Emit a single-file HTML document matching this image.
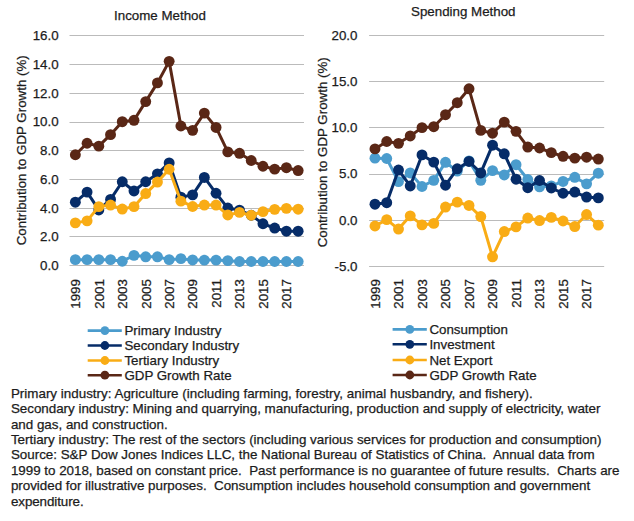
<!DOCTYPE html>
<html><head><meta charset="utf-8"><style>
html,body{margin:0;padding:0;background:#fff;}
svg{display:block;}
text{font-family:"Liberation Sans", sans-serif;font-size:13.33px;fill:#1c1c1c;stroke:#1c1c1c;stroke-width:0.25px;}
</style></head><body>
<svg width="634" height="521" viewBox="0 0 634 521">
<rect width="634" height="521" fill="#fff"/>
<line x1="69.50" x2="304.00" y1="35.50" y2="35.50" stroke="#bbbbbb" stroke-width="1"/>
<text x="58.60" y="40.10" text-anchor="end" >16.0</text>
<line x1="69.50" x2="304.00" y1="64.50" y2="64.50" stroke="#bbbbbb" stroke-width="1"/>
<text x="58.60" y="68.84" text-anchor="end" >14.0</text>
<line x1="69.50" x2="304.00" y1="93.50" y2="93.50" stroke="#bbbbbb" stroke-width="1"/>
<text x="58.60" y="97.57" text-anchor="end" >12.0</text>
<line x1="69.50" x2="304.00" y1="122.50" y2="122.50" stroke="#bbbbbb" stroke-width="1"/>
<text x="58.60" y="126.31" text-anchor="end" >10.0</text>
<line x1="69.50" x2="304.00" y1="150.50" y2="150.50" stroke="#bbbbbb" stroke-width="1"/>
<text x="58.60" y="155.05" text-anchor="end" >8.0</text>
<line x1="69.50" x2="304.00" y1="179.50" y2="179.50" stroke="#bbbbbb" stroke-width="1"/>
<text x="58.60" y="183.79" text-anchor="end" >6.0</text>
<line x1="69.50" x2="304.00" y1="208.50" y2="208.50" stroke="#bbbbbb" stroke-width="1"/>
<text x="58.60" y="212.52" text-anchor="end" >4.0</text>
<line x1="69.50" x2="304.00" y1="236.50" y2="236.50" stroke="#bbbbbb" stroke-width="1"/>
<text x="58.60" y="241.26" text-anchor="end" >2.0</text>
<line x1="69.50" x2="304.00" y1="265.50" y2="265.50" stroke="#bbbbbb" stroke-width="1"/>
<text x="58.60" y="270.00" text-anchor="end" >0.0</text>
<text transform="translate(80.16,279.1) rotate(-90)" text-anchor="end">1999</text>
<text transform="translate(103.61,279.1) rotate(-90)" text-anchor="end">2001</text>
<text transform="translate(127.06,279.1) rotate(-90)" text-anchor="end">2003</text>
<text transform="translate(150.51,279.1) rotate(-90)" text-anchor="end">2005</text>
<text transform="translate(173.96,279.1) rotate(-90)" text-anchor="end">2007</text>
<text transform="translate(197.41,279.1) rotate(-90)" text-anchor="end">2009</text>
<text transform="translate(220.86,279.1) rotate(-90)" text-anchor="end">2011</text>
<text transform="translate(244.31,279.1) rotate(-90)" text-anchor="end">2013</text>
<text transform="translate(267.76,279.1) rotate(-90)" text-anchor="end">2015</text>
<text transform="translate(291.21,279.1) rotate(-90)" text-anchor="end">2017</text>
<polyline points="75.36,259.65 87.09,259.65 98.81,259.65 110.54,259.65 122.26,261.23 133.99,255.34 145.71,256.78 157.44,256.78 169.16,259.65 180.89,258.65 192.61,259.94 204.34,260.08 216.06,260.08 227.79,260.66 239.51,261.52 251.24,261.52 262.96,261.52 274.69,261.52 286.41,261.52 298.14,261.52" fill="none" stroke="#4b9ccd" stroke-width="3.0" stroke-linejoin="round"/>
<circle cx="75.36" cy="259.65" r="5.45" fill="#4b9ccd"/>
<circle cx="87.09" cy="259.65" r="5.45" fill="#4b9ccd"/>
<circle cx="98.81" cy="259.65" r="5.45" fill="#4b9ccd"/>
<circle cx="110.54" cy="259.65" r="5.45" fill="#4b9ccd"/>
<circle cx="122.26" cy="261.23" r="5.45" fill="#4b9ccd"/>
<circle cx="133.99" cy="255.34" r="5.45" fill="#4b9ccd"/>
<circle cx="145.71" cy="256.78" r="5.45" fill="#4b9ccd"/>
<circle cx="157.44" cy="256.78" r="5.45" fill="#4b9ccd"/>
<circle cx="169.16" cy="259.65" r="5.45" fill="#4b9ccd"/>
<circle cx="180.89" cy="258.65" r="5.45" fill="#4b9ccd"/>
<circle cx="192.61" cy="259.94" r="5.45" fill="#4b9ccd"/>
<circle cx="204.34" cy="260.08" r="5.45" fill="#4b9ccd"/>
<circle cx="216.06" cy="260.08" r="5.45" fill="#4b9ccd"/>
<circle cx="227.79" cy="260.66" r="5.45" fill="#4b9ccd"/>
<circle cx="239.51" cy="261.52" r="5.45" fill="#4b9ccd"/>
<circle cx="251.24" cy="261.52" r="5.45" fill="#4b9ccd"/>
<circle cx="262.96" cy="261.52" r="5.45" fill="#4b9ccd"/>
<circle cx="274.69" cy="261.52" r="5.45" fill="#4b9ccd"/>
<circle cx="286.41" cy="261.52" r="5.45" fill="#4b9ccd"/>
<circle cx="298.14" cy="261.52" r="5.45" fill="#4b9ccd"/>
<polyline points="75.36,202.18 87.09,192.12 98.81,209.94 110.54,199.45 122.26,181.77 133.99,190.97 145.71,181.77 157.44,173.87 169.16,162.95 180.89,197.15 192.61,194.85 204.34,177.46 216.06,193.27 227.79,208.07 239.51,210.08 251.24,215.25 262.96,223.73 274.69,228.04 286.41,231.20 298.14,231.20" fill="none" stroke="#062c68" stroke-width="3.0" stroke-linejoin="round"/>
<circle cx="75.36" cy="202.18" r="5.45" fill="#062c68"/>
<circle cx="87.09" cy="192.12" r="5.45" fill="#062c68"/>
<circle cx="98.81" cy="209.94" r="5.45" fill="#062c68"/>
<circle cx="110.54" cy="199.45" r="5.45" fill="#062c68"/>
<circle cx="122.26" cy="181.77" r="5.45" fill="#062c68"/>
<circle cx="133.99" cy="190.97" r="5.45" fill="#062c68"/>
<circle cx="145.71" cy="181.77" r="5.45" fill="#062c68"/>
<circle cx="157.44" cy="173.87" r="5.45" fill="#062c68"/>
<circle cx="169.16" cy="162.95" r="5.45" fill="#062c68"/>
<circle cx="180.89" cy="197.15" r="5.45" fill="#062c68"/>
<circle cx="192.61" cy="194.85" r="5.45" fill="#062c68"/>
<circle cx="204.34" cy="177.46" r="5.45" fill="#062c68"/>
<circle cx="216.06" cy="193.27" r="5.45" fill="#062c68"/>
<circle cx="227.79" cy="208.07" r="5.45" fill="#062c68"/>
<circle cx="239.51" cy="210.08" r="5.45" fill="#062c68"/>
<circle cx="251.24" cy="215.25" r="5.45" fill="#062c68"/>
<circle cx="262.96" cy="223.73" r="5.45" fill="#062c68"/>
<circle cx="274.69" cy="228.04" r="5.45" fill="#062c68"/>
<circle cx="286.41" cy="231.20" r="5.45" fill="#062c68"/>
<circle cx="298.14" cy="231.20" r="5.45" fill="#062c68"/>
<polyline points="75.36,222.87 87.09,220.86 98.81,206.63 110.54,205.05 122.26,209.07 133.99,206.63 145.71,193.56 157.44,182.06 169.16,169.27 180.89,201.17 192.61,206.49 204.34,205.05 216.06,205.05 227.79,214.97 239.51,212.38 251.24,215.25 262.96,211.66 274.69,209.36 286.41,208.36 298.14,209.22" fill="none" stroke="#f9ac15" stroke-width="3.0" stroke-linejoin="round"/>
<circle cx="75.36" cy="222.87" r="5.45" fill="#f9ac15"/>
<circle cx="87.09" cy="220.86" r="5.45" fill="#f9ac15"/>
<circle cx="98.81" cy="206.63" r="5.45" fill="#f9ac15"/>
<circle cx="110.54" cy="205.05" r="5.45" fill="#f9ac15"/>
<circle cx="122.26" cy="209.07" r="5.45" fill="#f9ac15"/>
<circle cx="133.99" cy="206.63" r="5.45" fill="#f9ac15"/>
<circle cx="145.71" cy="193.56" r="5.45" fill="#f9ac15"/>
<circle cx="157.44" cy="182.06" r="5.45" fill="#f9ac15"/>
<circle cx="169.16" cy="169.27" r="5.45" fill="#f9ac15"/>
<circle cx="180.89" cy="201.17" r="5.45" fill="#f9ac15"/>
<circle cx="192.61" cy="206.49" r="5.45" fill="#f9ac15"/>
<circle cx="204.34" cy="205.05" r="5.45" fill="#f9ac15"/>
<circle cx="216.06" cy="205.05" r="5.45" fill="#f9ac15"/>
<circle cx="227.79" cy="214.97" r="5.45" fill="#f9ac15"/>
<circle cx="239.51" cy="212.38" r="5.45" fill="#f9ac15"/>
<circle cx="251.24" cy="215.25" r="5.45" fill="#f9ac15"/>
<circle cx="262.96" cy="211.66" r="5.45" fill="#f9ac15"/>
<circle cx="274.69" cy="209.36" r="5.45" fill="#f9ac15"/>
<circle cx="286.41" cy="208.36" r="5.45" fill="#f9ac15"/>
<circle cx="298.14" cy="209.22" r="5.45" fill="#f9ac15"/>
<polyline points="75.36,154.76 87.09,143.27 98.81,146.14 110.54,134.64 122.26,121.71 133.99,120.28 145.71,101.60 157.44,82.92 169.16,61.36 180.89,126.02 192.61,130.33 204.34,113.09 216.06,127.46 227.79,151.89 239.51,153.32 251.24,160.51 262.96,166.26 274.69,169.13 286.41,167.69 298.14,170.57" fill="none" stroke="#5a2716" stroke-width="3.0" stroke-linejoin="round"/>
<circle cx="75.36" cy="154.76" r="5.45" fill="#5a2716"/>
<circle cx="87.09" cy="143.27" r="5.45" fill="#5a2716"/>
<circle cx="98.81" cy="146.14" r="5.45" fill="#5a2716"/>
<circle cx="110.54" cy="134.64" r="5.45" fill="#5a2716"/>
<circle cx="122.26" cy="121.71" r="5.45" fill="#5a2716"/>
<circle cx="133.99" cy="120.28" r="5.45" fill="#5a2716"/>
<circle cx="145.71" cy="101.60" r="5.45" fill="#5a2716"/>
<circle cx="157.44" cy="82.92" r="5.45" fill="#5a2716"/>
<circle cx="169.16" cy="61.36" r="5.45" fill="#5a2716"/>
<circle cx="180.89" cy="126.02" r="5.45" fill="#5a2716"/>
<circle cx="192.61" cy="130.33" r="5.45" fill="#5a2716"/>
<circle cx="204.34" cy="113.09" r="5.45" fill="#5a2716"/>
<circle cx="216.06" cy="127.46" r="5.45" fill="#5a2716"/>
<circle cx="227.79" cy="151.89" r="5.45" fill="#5a2716"/>
<circle cx="239.51" cy="153.32" r="5.45" fill="#5a2716"/>
<circle cx="251.24" cy="160.51" r="5.45" fill="#5a2716"/>
<circle cx="262.96" cy="166.26" r="5.45" fill="#5a2716"/>
<circle cx="274.69" cy="169.13" r="5.45" fill="#5a2716"/>
<circle cx="286.41" cy="167.69" r="5.45" fill="#5a2716"/>
<circle cx="298.14" cy="170.57" r="5.45" fill="#5a2716"/>
<text x="160.00" y="19.50" text-anchor="middle" >Income Method</text>
<text transform="translate(25.70,150.30) rotate(-90)" text-anchor="middle">Contribution to GDP Growth (%)</text>
<line x1="369.10" x2="604.20" y1="35.50" y2="35.50" stroke="#bbbbbb" stroke-width="1"/>
<text x="357.50" y="39.80" text-anchor="end" >20.0</text>
<line x1="369.10" x2="604.20" y1="81.50" y2="81.50" stroke="#bbbbbb" stroke-width="1"/>
<text x="357.50" y="86.02" text-anchor="end" >15.0</text>
<line x1="369.10" x2="604.20" y1="127.50" y2="127.50" stroke="#bbbbbb" stroke-width="1"/>
<text x="357.50" y="132.24" text-anchor="end" >10.0</text>
<line x1="369.10" x2="604.20" y1="174.50" y2="174.50" stroke="#bbbbbb" stroke-width="1"/>
<text x="357.50" y="178.46" text-anchor="end" >5.0</text>
<line x1="369.10" x2="604.20" y1="220.50" y2="220.50" stroke="#bbbbbb" stroke-width="1"/>
<text x="357.50" y="224.68" text-anchor="end" >0.0</text>
<line x1="369.10" x2="604.20" y1="266.50" y2="266.50" stroke="#bbbbbb" stroke-width="1"/>
<text x="357.50" y="270.90" text-anchor="end" >-5.0</text>
<text transform="translate(379.78,279.1) rotate(-90)" text-anchor="end">1999</text>
<text transform="translate(403.29,279.1) rotate(-90)" text-anchor="end">2001</text>
<text transform="translate(426.80,279.1) rotate(-90)" text-anchor="end">2003</text>
<text transform="translate(450.31,279.1) rotate(-90)" text-anchor="end">2005</text>
<text transform="translate(473.82,279.1) rotate(-90)" text-anchor="end">2007</text>
<text transform="translate(497.33,279.1) rotate(-90)" text-anchor="end">2009</text>
<text transform="translate(520.84,279.1) rotate(-90)" text-anchor="end">2011</text>
<text transform="translate(544.35,279.1) rotate(-90)" text-anchor="end">2013</text>
<text transform="translate(567.86,279.1) rotate(-90)" text-anchor="end">2015</text>
<text transform="translate(591.37,279.1) rotate(-90)" text-anchor="end">2017</text>
<polyline points="374.98,158.15 386.73,158.51 398.49,181.62 410.24,172.94 422.00,186.52 433.75,180.33 445.51,162.31 457.26,171.09 469.02,160.92 480.77,180.33 492.53,170.62 504.28,174.97 516.04,164.71 527.79,179.50 539.55,186.80 551.30,185.88 563.06,181.44 574.81,177.28 586.57,183.84 598.32,173.21" fill="none" stroke="#4b9ccd" stroke-width="3.0" stroke-linejoin="round"/>
<circle cx="374.98" cy="158.15" r="5.45" fill="#4b9ccd"/>
<circle cx="386.73" cy="158.51" r="5.45" fill="#4b9ccd"/>
<circle cx="398.49" cy="181.62" r="5.45" fill="#4b9ccd"/>
<circle cx="410.24" cy="172.94" r="5.45" fill="#4b9ccd"/>
<circle cx="422.00" cy="186.52" r="5.45" fill="#4b9ccd"/>
<circle cx="433.75" cy="180.33" r="5.45" fill="#4b9ccd"/>
<circle cx="445.51" cy="162.31" r="5.45" fill="#4b9ccd"/>
<circle cx="457.26" cy="171.09" r="5.45" fill="#4b9ccd"/>
<circle cx="469.02" cy="160.92" r="5.45" fill="#4b9ccd"/>
<circle cx="480.77" cy="180.33" r="5.45" fill="#4b9ccd"/>
<circle cx="492.53" cy="170.62" r="5.45" fill="#4b9ccd"/>
<circle cx="504.28" cy="174.97" r="5.45" fill="#4b9ccd"/>
<circle cx="516.04" cy="164.71" r="5.45" fill="#4b9ccd"/>
<circle cx="527.79" cy="179.50" r="5.45" fill="#4b9ccd"/>
<circle cx="539.55" cy="186.80" r="5.45" fill="#4b9ccd"/>
<circle cx="551.30" cy="185.88" r="5.45" fill="#4b9ccd"/>
<circle cx="563.06" cy="181.44" r="5.45" fill="#4b9ccd"/>
<circle cx="574.81" cy="177.28" r="5.45" fill="#4b9ccd"/>
<circle cx="586.57" cy="183.84" r="5.45" fill="#4b9ccd"/>
<circle cx="598.32" cy="173.21" r="5.45" fill="#4b9ccd"/>
<polyline points="374.98,204.18 386.73,202.70 398.49,170.07 410.24,185.97 422.00,154.91 433.75,162.12 445.51,185.23 457.26,168.78 469.02,161.47 480.77,172.94 492.53,145.20 504.28,153.80 516.04,179.22 527.79,187.73 539.55,180.52 551.30,188.00 563.06,193.27 574.81,192.07 586.57,197.06 598.32,197.89" fill="none" stroke="#062c68" stroke-width="3.0" stroke-linejoin="round"/>
<circle cx="374.98" cy="204.18" r="5.45" fill="#062c68"/>
<circle cx="386.73" cy="202.70" r="5.45" fill="#062c68"/>
<circle cx="398.49" cy="170.07" r="5.45" fill="#062c68"/>
<circle cx="410.24" cy="185.97" r="5.45" fill="#062c68"/>
<circle cx="422.00" cy="154.91" r="5.45" fill="#062c68"/>
<circle cx="433.75" cy="162.12" r="5.45" fill="#062c68"/>
<circle cx="445.51" cy="185.23" r="5.45" fill="#062c68"/>
<circle cx="457.26" cy="168.78" r="5.45" fill="#062c68"/>
<circle cx="469.02" cy="161.47" r="5.45" fill="#062c68"/>
<circle cx="480.77" cy="172.94" r="5.45" fill="#062c68"/>
<circle cx="492.53" cy="145.20" r="5.45" fill="#062c68"/>
<circle cx="504.28" cy="153.80" r="5.45" fill="#062c68"/>
<circle cx="516.04" cy="179.22" r="5.45" fill="#062c68"/>
<circle cx="527.79" cy="187.73" r="5.45" fill="#062c68"/>
<circle cx="539.55" cy="180.52" r="5.45" fill="#062c68"/>
<circle cx="551.30" cy="188.00" r="5.45" fill="#062c68"/>
<circle cx="563.06" cy="193.27" r="5.45" fill="#062c68"/>
<circle cx="574.81" cy="192.07" r="5.45" fill="#062c68"/>
<circle cx="586.57" cy="197.06" r="5.45" fill="#062c68"/>
<circle cx="598.32" cy="197.89" r="5.45" fill="#062c68"/>
<polyline points="374.98,226.00 386.73,219.62 398.49,229.05 410.24,215.83 422.00,224.89 433.75,223.41 445.51,207.05 457.26,202.15 469.02,205.47 480.77,216.57 492.53,256.78 504.28,231.54 516.04,226.83 527.79,218.05 539.55,220.54 551.30,217.40 563.06,221.00 574.81,226.55 586.57,214.53 598.32,225.16" fill="none" stroke="#f9ac15" stroke-width="3.0" stroke-linejoin="round"/>
<circle cx="374.98" cy="226.00" r="5.45" fill="#f9ac15"/>
<circle cx="386.73" cy="219.62" r="5.45" fill="#f9ac15"/>
<circle cx="398.49" cy="229.05" r="5.45" fill="#f9ac15"/>
<circle cx="410.24" cy="215.83" r="5.45" fill="#f9ac15"/>
<circle cx="422.00" cy="224.89" r="5.45" fill="#f9ac15"/>
<circle cx="433.75" cy="223.41" r="5.45" fill="#f9ac15"/>
<circle cx="445.51" cy="207.05" r="5.45" fill="#f9ac15"/>
<circle cx="457.26" cy="202.15" r="5.45" fill="#f9ac15"/>
<circle cx="469.02" cy="205.47" r="5.45" fill="#f9ac15"/>
<circle cx="480.77" cy="216.57" r="5.45" fill="#f9ac15"/>
<circle cx="492.53" cy="256.78" r="5.45" fill="#f9ac15"/>
<circle cx="504.28" cy="231.54" r="5.45" fill="#f9ac15"/>
<circle cx="516.04" cy="226.83" r="5.45" fill="#f9ac15"/>
<circle cx="527.79" cy="218.05" r="5.45" fill="#f9ac15"/>
<circle cx="539.55" cy="220.54" r="5.45" fill="#f9ac15"/>
<circle cx="551.30" cy="217.40" r="5.45" fill="#f9ac15"/>
<circle cx="563.06" cy="221.00" r="5.45" fill="#f9ac15"/>
<circle cx="574.81" cy="226.55" r="5.45" fill="#f9ac15"/>
<circle cx="586.57" cy="214.53" r="5.45" fill="#f9ac15"/>
<circle cx="598.32" cy="225.16" r="5.45" fill="#f9ac15"/>
<polyline points="374.98,148.90 386.73,141.51 398.49,143.35 410.24,135.96 422.00,127.64 433.75,126.72 445.51,114.70 457.26,102.68 469.02,88.82 480.77,130.41 492.53,133.19 504.28,122.09 516.04,131.34 527.79,147.05 539.55,147.98 551.30,152.60 563.06,156.30 574.81,158.15 586.57,157.22 598.32,159.07" fill="none" stroke="#5a2716" stroke-width="3.0" stroke-linejoin="round"/>
<circle cx="374.98" cy="148.90" r="5.45" fill="#5a2716"/>
<circle cx="386.73" cy="141.51" r="5.45" fill="#5a2716"/>
<circle cx="398.49" cy="143.35" r="5.45" fill="#5a2716"/>
<circle cx="410.24" cy="135.96" r="5.45" fill="#5a2716"/>
<circle cx="422.00" cy="127.64" r="5.45" fill="#5a2716"/>
<circle cx="433.75" cy="126.72" r="5.45" fill="#5a2716"/>
<circle cx="445.51" cy="114.70" r="5.45" fill="#5a2716"/>
<circle cx="457.26" cy="102.68" r="5.45" fill="#5a2716"/>
<circle cx="469.02" cy="88.82" r="5.45" fill="#5a2716"/>
<circle cx="480.77" cy="130.41" r="5.45" fill="#5a2716"/>
<circle cx="492.53" cy="133.19" r="5.45" fill="#5a2716"/>
<circle cx="504.28" cy="122.09" r="5.45" fill="#5a2716"/>
<circle cx="516.04" cy="131.34" r="5.45" fill="#5a2716"/>
<circle cx="527.79" cy="147.05" r="5.45" fill="#5a2716"/>
<circle cx="539.55" cy="147.98" r="5.45" fill="#5a2716"/>
<circle cx="551.30" cy="152.60" r="5.45" fill="#5a2716"/>
<circle cx="563.06" cy="156.30" r="5.45" fill="#5a2716"/>
<circle cx="574.81" cy="158.15" r="5.45" fill="#5a2716"/>
<circle cx="586.57" cy="157.22" r="5.45" fill="#5a2716"/>
<circle cx="598.32" cy="159.07" r="5.45" fill="#5a2716"/>
<text x="463.30" y="16.00" text-anchor="middle" >Spending Method</text>
<text transform="translate(327.40,152.30) rotate(-90)" text-anchor="middle">Contribution to GDP Growth (%)</text>
<line x1="87.7" x2="121.8" y1="330.6" y2="330.6" stroke="#4b9ccd" stroke-width="2.6"/>
<circle cx="104.9" cy="330.6" r="4.4" fill="#4b9ccd"/>
<text x="124.40" y="335.30" text-anchor="start" >Primary Industry</text>
<line x1="87.7" x2="121.8" y1="345.5" y2="345.5" stroke="#062c68" stroke-width="2.6"/>
<circle cx="104.9" cy="345.5" r="4.4" fill="#062c68"/>
<text x="124.40" y="350.20" text-anchor="start" >Secondary Industry</text>
<line x1="87.7" x2="121.8" y1="360.5" y2="360.5" stroke="#f9ac15" stroke-width="2.6"/>
<circle cx="104.9" cy="360.5" r="4.4" fill="#f9ac15"/>
<text x="124.40" y="365.20" text-anchor="start" >Tertiary Industry</text>
<line x1="87.7" x2="121.8" y1="375.2" y2="375.2" stroke="#5a2716" stroke-width="2.6"/>
<circle cx="104.9" cy="375.2" r="4.4" fill="#5a2716"/>
<text x="124.40" y="379.90" text-anchor="start" >GDP Growth Rate</text>
<line x1="392.6" x2="426.8" y1="329.4" y2="329.4" stroke="#4b9ccd" stroke-width="2.6"/>
<circle cx="409.8" cy="329.4" r="4.4" fill="#4b9ccd"/>
<text x="429.40" y="334.10" text-anchor="start" >Consumption</text>
<line x1="392.6" x2="426.8" y1="344.3" y2="344.3" stroke="#062c68" stroke-width="2.6"/>
<circle cx="409.8" cy="344.3" r="4.4" fill="#062c68"/>
<text x="429.40" y="349.00" text-anchor="start" >Investment</text>
<line x1="392.6" x2="426.8" y1="360.0" y2="360.0" stroke="#f9ac15" stroke-width="2.6"/>
<circle cx="409.8" cy="360.0" r="4.4" fill="#f9ac15"/>
<text x="429.40" y="364.70" text-anchor="start" >Net Export</text>
<line x1="392.6" x2="426.8" y1="375.0" y2="375.0" stroke="#5a2716" stroke-width="2.6"/>
<circle cx="409.8" cy="375.0" r="4.4" fill="#5a2716"/>
<text x="429.40" y="379.70" text-anchor="start" >GDP Growth Rate</text>
<text x="10.90" y="398.00" text-anchor="start" style="font-size:13.4px" textLength="521.9" lengthAdjust="spacing">Primary industry: Agriculture (including farming, forestry, animal husbandry, and fishery).</text>
<text x="10.90" y="413.36" text-anchor="start" style="font-size:13.4px" textLength="589.5" lengthAdjust="spacing">Secondary industry: Mining and quarrying, manufacturing, production and supply of electricity, water</text>
<text x="10.90" y="428.72" text-anchor="start" style="font-size:13.4px" textLength="156.8" lengthAdjust="spacing">and gas, and construction.</text>
<text x="10.90" y="444.08" text-anchor="start" style="font-size:13.4px" textLength="590.5" lengthAdjust="spacing">Tertiary industry: The rest of the sectors (including various services for production and consumption)</text>
<text x="10.90" y="459.44" text-anchor="start" style="font-size:13.4px" textLength="583.8" lengthAdjust="spacing">Source: S&amp;P Dow Jones Indices LLC, the National Bureau of Statistics of China.&#160; Annual data from</text>
<text x="10.90" y="474.80" text-anchor="start" style="font-size:13.4px" textLength="608.6" lengthAdjust="spacing">1999 to 2018, based on constant price.&#160; Past performance is no guarantee of future results.&#160; Charts are</text>
<text x="10.90" y="490.16" text-anchor="start" style="font-size:13.4px" textLength="579.3" lengthAdjust="spacing">provided for illustrative purposes.&#160; Consumption includes household consumption and government</text>
<text x="10.90" y="505.52" text-anchor="start" style="font-size:13.4px" textLength="72.8" lengthAdjust="spacing">expenditure.</text>
</svg>
</body></html>
